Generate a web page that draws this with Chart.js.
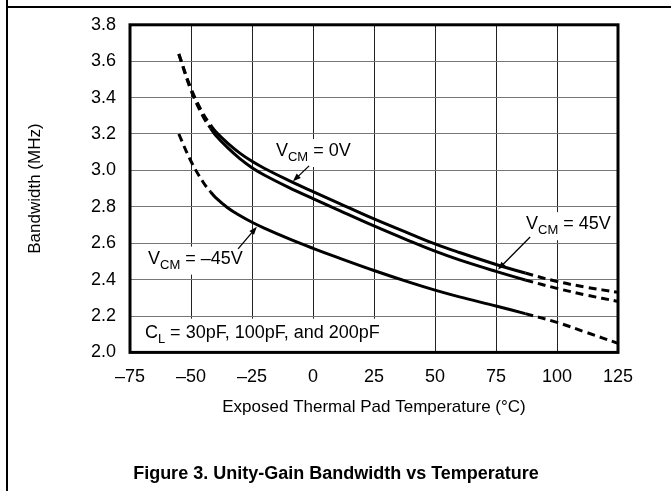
<!DOCTYPE html>
<html>
<head>
<meta charset="utf-8">
<script src="https://cdn.jsdelivr.net/npm/chart.js@4.4.1/dist/chart.umd.min.js"></script>
<style>
  html, body { margin: 0; padding: 0; background: #fff; }
  #wrap { position: relative; width: 671px; height: 491px; overflow: hidden; }
  #frameLeft { position: absolute; left: 6px; top: 0; width: 1.5px; height: 491px; background: #000; }
  #frameTop { position: absolute; left: 6px; top: 6px; width: 665px; height: 1.5px; background: #000; }
  canvas { position: absolute; left: 0; top: 0; }
</style>
</head>
<body>
<div id="wrap">
  <canvas id="chart" width="671" height="491"></canvas>
  <div id="frameLeft"></div>
  <div id="frameTop"></div>
</div>
<script>
// Values
const temps = [-55, -50, -45, -42, -40, -35, -30, -25, -20, -10, 0, 10, 25, 40, 50, 60, 75, 87, 100, 112, 125];
const bwVcm0 = [3.64, 3.45, 3.31, 3.25, 3.215, 3.15, 3.095, 3.05, 3.012, 2.945, 2.883, 2.823, 2.733, 2.65, 2.596, 2.549, 2.483, 2.436, 2.39, 2.358, 2.33];
const bwVcm45 = [3.64, 3.44, 3.295, 3.232, 3.195, 3.125, 3.065, 3.015, 2.975, 2.907, 2.845, 2.785, 2.695, 2.61, 2.556, 2.508, 2.445, 2.398, 2.352, 2.315, 2.28];
const bwVcmNeg45 = [3.2, 3.05, 2.935, 2.882, 2.852, 2.795, 2.752, 2.715, 2.683, 2.625, 2.572, 2.522, 2.45, 2.383, 2.342, 2.305, 2.255, 2.213, 2.165, 2.11, 2.05];
const xTicks = [-75, -50, -25, 0, 25, 50, 75, 100, 125];
const yTicks = [2.0, 2.2, 2.4, 2.6, 2.8, 3.0, 3.2, 3.4, 3.6, 3.8];

// measured range is drawn solid, extrapolated ends dashed
const solidFrom = -42;
const solidTo = 87;

const FONT = '"Liberation Sans", Arial, sans-serif';
const DASH = [8, 5];

// callouts: text anchor, arrow start and arrow tip in data units
const notes = [
  { main: 'V', sub: 'CM', rest: ' = 0V', at: [-15.2, 3.079], from: [-1.6, 3.025], to: [-8.2, 2.94] },
  { main: 'V', sub: 'CM', rest: ' = \u201345V', at: [-67.6, 2.488], from: [-30.7, 2.569], to: [-23, 2.69] },
  { main: 'V', sub: 'CM', rest: ' = 45V', at: [87.3, 2.677], from: [89, 2.634], to: [75.8, 2.455] },
  { main: 'C', sub: 'L', rest: ' = 30pF, 100pF, and 200pF', at: [-68.9, 2.081], box: 'bottom' },
];

function dashedEnds(ctx) {
  if (ctx.p1.parsed.x <= solidFrom || ctx.p0.parsed.x >= solidTo) {
    return DASH;
  }
  return undefined;
}

function series(values) {
  return {
    data: temps.map((t, i) => ({ x: t, y: values[i] })),
    borderColor: '#000',
    borderWidth: 3,
    pointRadius: 0,
    fill: false,
    tension: 0.4,
    segment: { borderDash: dashedEnds },
  };
}

function drawArrow(ctx, x0, y0, x1, y1) {
  const ang = Math.atan2(y1 - y0, x1 - x0);
  const len = 8;
  const half = 3;
  ctx.beginPath();
  ctx.moveTo(x0, y0);
  ctx.lineTo(x1 - Math.cos(ang) * len * 0.8, y1 - Math.sin(ang) * len * 0.8);
  ctx.lineWidth = 1.3;
  ctx.strokeStyle = '#000';
  ctx.stroke();
  ctx.beginPath();
  ctx.moveTo(x1, y1);
  ctx.lineTo(x1 - Math.cos(ang) * len + Math.sin(ang) * half, y1 - Math.sin(ang) * len - Math.cos(ang) * half);
  ctx.lineTo(x1 - Math.cos(ang) * len - Math.sin(ang) * half, y1 - Math.sin(ang) * len + Math.cos(ang) * half);
  ctx.closePath();
  ctx.fillStyle = '#000';
  ctx.fill();
}

const calloutPlugin = {
  id: 'callouts',
  beforeDatasetsDraw(chart) {
    const { ctx, scales: { x, y }, chartArea } = chart;
    ctx.save();
    notes.forEach((n) => {
      const px = x.getPixelForValue(n.at[0]);
      const py = y.getPixelForValue(n.at[1]);
      ctx.font = `18px ${FONT}`;
      const wMain = ctx.measureText(n.main).width;
      const wRest = ctx.measureText(n.rest).width;
      ctx.font = `13px ${FONT}`;
      const wSub = ctx.measureText(n.sub).width;
      const total = wMain + wSub + wRest;

      // white box hides the grid behind the text
      ctx.fillStyle = '#fff';
      if (n.box === 'bottom') {
        ctx.fillRect(chartArea.left, py - 19, px + total + 8 - chartArea.left, chartArea.bottom - (py - 19));
      } else {
        ctx.fillRect(px - 5, py - 17, total + 10, 28);
      }

      ctx.fillStyle = '#000';
      ctx.textBaseline = 'alphabetic';
      ctx.textAlign = 'left';
      ctx.font = `18px ${FONT}`;
      ctx.fillText(n.main, px, py);
      ctx.font = `13px ${FONT}`;
      ctx.fillText(n.sub, px + wMain, py + 5);
      ctx.font = `18px ${FONT}`;
      ctx.fillText(n.rest, px + wMain + wSub, py);

      if (n.from) {
        drawArrow(ctx,
          x.getPixelForValue(n.from[0]), y.getPixelForValue(n.from[1]),
          x.getPixelForValue(n.to[0]), y.getPixelForValue(n.to[1]));
      }
    });
    ctx.restore();
  },
  afterDatasetsDraw(chart) {
    const { ctx, chartArea } = chart;
    ctx.save();
    ctx.lineWidth = 3;
    ctx.strokeStyle = '#000';
    ctx.strokeRect(chartArea.left, chartArea.top, chartArea.right - chartArea.left, chartArea.bottom - chartArea.top);
    ctx.restore();
  },
};

const canvas = document.getElementById('chart');
new Chart(canvas.getContext('2d'), {
  type: 'line',
  data: {
    datasets: [series(bwVcm0), series(bwVcm45), series(bwVcmNeg45)],
  },
  options: {
    responsive: false,
    animation: false,
    devicePixelRatio: 1,
    layout: {
      // symmetric side padding keeps the caption centred on the page
      padding: { left: 54, right: 53, top: 20, bottom: 0 },
    },
    plugins: {
      legend: { display: false },
      tooltip: { enabled: false },
      title: {
        display: true,
        position: 'bottom',
        text: 'Figure 3. Unity-Gain Bandwidth vs Temperature',
        color: '#000',
        font: { family: FONT, size: 18, weight: 'bold' },
        padding: { top: 0, bottom: 6 },
      },
    },
    scales: {
      x: {
        type: 'linear',
        min: -75,
        max: 125,
        afterBuildTicks: (s) => { s.ticks = xTicks.map((v) => ({ value: v })); },
        afterFit: (s) => { s.height = 111; },
        grid: { color: '#222', lineWidth: 1, drawTicks: false },
        border: { display: false },
        ticks: {
          color: '#000',
          padding: 14,
          maxRotation: 0,
          font: { family: FONT, size: 18 },
          callback: (v) => String(v).replace('-', '\u2013'),
        },
        title: {
          display: true,
          text: 'Exposed Thermal Pad Temperature (\u00b0C)',
          color: '#000',
          font: { family: FONT, size: 17 },
          padding: { top: 0, bottom: 46 },
        },
      },
      y: {
        type: 'linear',
        min: 2.0,
        max: 3.8,
        afterBuildTicks: (s) => { s.ticks = yTicks.map((v) => ({ value: v })); },
        afterFit: (s) => { s.width = 76; },
        grid: { color: '#777', lineWidth: 1, drawTicks: false },
        border: { display: false },
        ticks: {
          color: '#000',
          padding: 14,
          font: { family: FONT, size: 18 },
          callback: (v) => v.toFixed(1),
        },
        title: {
          display: true,
          text: 'Bandwidth (MHz)',
          color: '#000',
          font: { family: FONT, size: 17 },
          padding: { top: -29, bottom: 0 },
        },
      },
    },
  },
  plugins: [calloutPlugin],
});
</script>
</body>
</html>
